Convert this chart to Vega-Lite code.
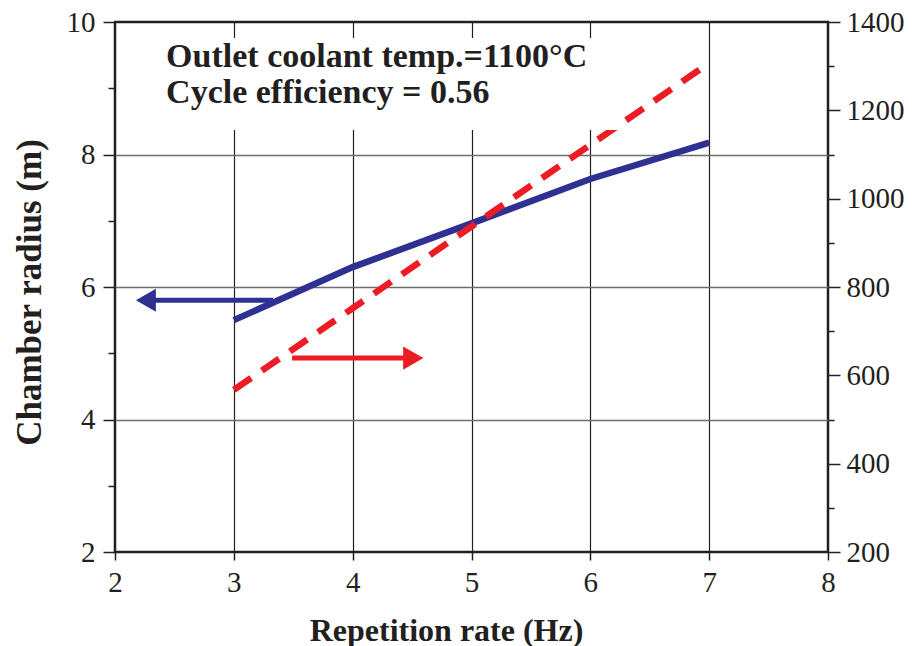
{
  "$schema": "https://vega.github.io/schema/vega-lite/v6.json",
  "width": 713,
  "height": 530,
  "autosize": "none",
  "padding": {"left": 115, "top": 22, "right": 90, "bottom": 94},
  "background": "white",
  "config": {
    "view": {"stroke": "#231f20", "strokeWidth": 2.5},
    "axis": {"domain": false}
  },
  "datasets": {
    "radius": [
      {"x": 3, "y": 5.5},
      {"x": 4, "y": 6.3},
      {"x": 5, "y": 6.96},
      {"x": 6, "y": 7.63},
      {"x": 7, "y": 8.18}
    ],
    "temp": [
      {"x": 3, "y": 567},
      {"x": 4, "y": 752},
      {"x": 5, "y": 937},
      {"x": 6, "y": 1122},
      {"x": 7, "y": 1307}
    ],
    "blueArrow": [{"x": 2.3, "x2": 3.33, "y": 5.8, "hx": 2.26}],
    "redArrow": [{"x": 3.49, "x2": 4.46, "y": 639, "hx": 4.51}],
    "box": [{"x": 2.05, "x2": 6.26, "y": 8.37, "y2": 9.76}],
    "notes": [
      {"x": 2.43, "y": 9.32, "label": "Outlet coolant temp.=1100°C"},
      {"x": 2.43, "y": 8.78, "label": "Cycle efficiency = 0.56"}
    ]
  },
  "layer": [
    {
      "layer": [
        {
          "data": {"name": "radius"},
          "mark": {"type": "line", "color": "#2e3192", "strokeWidth": 6.5, "strokeCap": "butt"},
          "encoding": {
            "x": {
              "field": "x", "type": "quantitative",
              "scale": {"domain": [2, 8], "nice": false, "zero": false},
              "axis": {
                "values": [2,2.25,2.5,2.75,3,3.25,3.5,3.75,4,4.25,4.5,4.75,5,5.25,5.5,5.75,6,6.25,6.5,6.75,7,7.25,7.5,7.75,8],
                "format": "d",
                "grid": true,
                "gridColor": "#231f20",
                "gridWidth": 1.2,
                "gridOpacity": {"condition": {"test": "datum.value % 1 === 0 && datum.value > 2 && datum.value < 8", "value": 1}, "value": 0},
                "tickColor": "#231f20",
                "tickWidth": 1.5,
                "tickSize": {"condition": {"test": "datum.value % 1 === 0", "value": 8}, "value": 5},
                "labelExpr": "datum.value % 1 === 0 ? format(datum.value, 'd') : ''",
                "labelFont": "Liberation Serif",
                "labelFontSize": 29,
                "labelColor": "#231f20",
                "labelPadding": 8,
                "labelFlush": false,
                "labelOverlap": false,
                "title": "Repetition rate (Hz)",
                "titleFont": "Liberation Serif",
                "titleFontSize": 32,
                "titleFontWeight": "bold",
                "titleColor": "#231f20",
                "titleX": 331,
                "titleY": 88,
                "titleBaseline": "alphabetic",
                "titleAlign": "center"
              }
            },
            "y": {
              "field": "y", "type": "quantitative",
              "scale": {"domain": [2, 10], "nice": false, "zero": false},
              "axis": {
                "orient": "left",
                "values": [2,2.5,3,3.5,4,4.5,5,5.5,6,6.5,7,7.5,8,8.5,9,9.5,10],
                "format": "d",
                "grid": true,
                "gridColor": "#6d6e71",
                "gridWidth": 1.5,
                "gridOpacity": {"condition": {"test": "datum.value % 2 === 0 && datum.value > 2 && datum.value < 10", "value": 1}, "value": 0},
                "tickColor": "#231f20",
                "tickWidth": 1.5,
                "tickSize": {"condition": {"test": "datum.value % 2 === 0", "value": 12}, "value": 7},
                "labelExpr": "datum.value % 2 === 0 ? format(datum.value, 'd') : ''",
                "labelFont": "Liberation Serif",
                "labelFontSize": 29,
                "labelColor": "#231f20",
                "labelPadding": 8,
                "labelFlush": false,
                "labelOverlap": false,
                "title": "Chamber radius (m)",
                "titleFont": "Liberation Serif",
                "titleFontSize": 35,
                "titleFontWeight": "bold",
                "titleColor": "#231f20",
                "titleAngle": -90,
                "titleX": -75,
                "titleY": 270,
                "titleBaseline": "alphabetic",
                "titleAlign": "center"
              }
            }
          }
        },
        {
          "data": {"name": "blueArrow"},
          "mark": {"type": "rule", "color": "#2e3192", "strokeWidth": 5},
          "encoding": {
            "x": {"field": "x", "type": "quantitative"},
            "x2": {"field": "x2"},
            "y": {"field": "y", "type": "quantitative"}
          }
        },
        {
          "data": {"name": "blueArrow"},
          "mark": {"type": "point", "shape": "triangle-left", "filled": true, "color": "#2e3192", "opacity": 1, "size": 530},
          "encoding": {
            "x": {"field": "hx", "type": "quantitative"},
            "y": {"field": "y", "type": "quantitative"}
          }
        }
      ]
    },
    {
      "layer": [
        {
          "data": {"name": "temp"},
          "mark": {"type": "line", "color": "#ed1c24", "strokeWidth": 6.5, "strokeDash": [21, 13], "strokeCap": "butt"},
          "encoding": {
            "x": {"field": "x", "type": "quantitative"},
            "y": {
              "field": "y", "type": "quantitative",
              "scale": {"domain": [200, 1400], "nice": false, "zero": false},
              "axis": {
                "orient": "right",
                "values": [200,250,300,350,400,450,500,550,600,650,700,750,800,850,900,950,1000,1050,1100,1150,1200,1250,1300,1350,1400],
                "format": "d",
                "grid": false,
                "tickColor": "#231f20",
                "tickWidth": 1.5,
                "tickSize": {"condition": {"test": "datum.value % 200 === 0", "value": 12}, "value": 6},
                "labelExpr": "datum.value % 200 === 0 ? format(datum.value, 'd') : ''",
                "labelFont": "Liberation Serif",
                "labelFontSize": 29,
                "labelColor": "#231f20",
                "labelPadding": 6,
                "labelFlush": false,
                "labelOverlap": false,
                "title": null
              }
            }
          }
        },
        {
          "data": {"name": "redArrow"},
          "mark": {"type": "rule", "color": "#ed1c24", "strokeWidth": 5},
          "encoding": {
            "x": {"field": "x", "type": "quantitative"},
            "x2": {"field": "x2"},
            "y": {"field": "y", "type": "quantitative"}
          }
        },
        {
          "data": {"name": "redArrow"},
          "mark": {"type": "point", "shape": "triangle-right", "filled": true, "color": "#ed1c24", "opacity": 1, "size": 550},
          "encoding": {
            "x": {"field": "hx", "type": "quantitative"},
            "y": {"field": "y", "type": "quantitative"}
          }
        }
      ]
    },
    {
      "layer": [
        {
          "data": {"name": "box"},
          "mark": {"type": "rect", "fill": "white", "stroke": null, "opacity": 1},
          "encoding": {
            "x": {"field": "x", "type": "quantitative"},
            "x2": {"field": "x2"},
            "y": {"field": "y", "type": "quantitative", "scale": {"domain": [2, 10], "nice": false, "zero": false}, "axis": null},
            "y2": {"field": "y2"}
          }
        },
        {
          "data": {"name": "notes"},
          "mark": {"type": "text", "align": "left", "baseline": "alphabetic", "font": "Liberation Serif", "fontSize": 34, "fontWeight": "bold", "color": "#231f20"},
          "encoding": {
            "x": {"field": "x", "type": "quantitative"},
            "y": {"field": "y", "type": "quantitative"},
            "text": {"field": "label"}
          }
        }
      ]
    }
  ],
  "resolve": {"scale": {"y": "independent"}}
}
